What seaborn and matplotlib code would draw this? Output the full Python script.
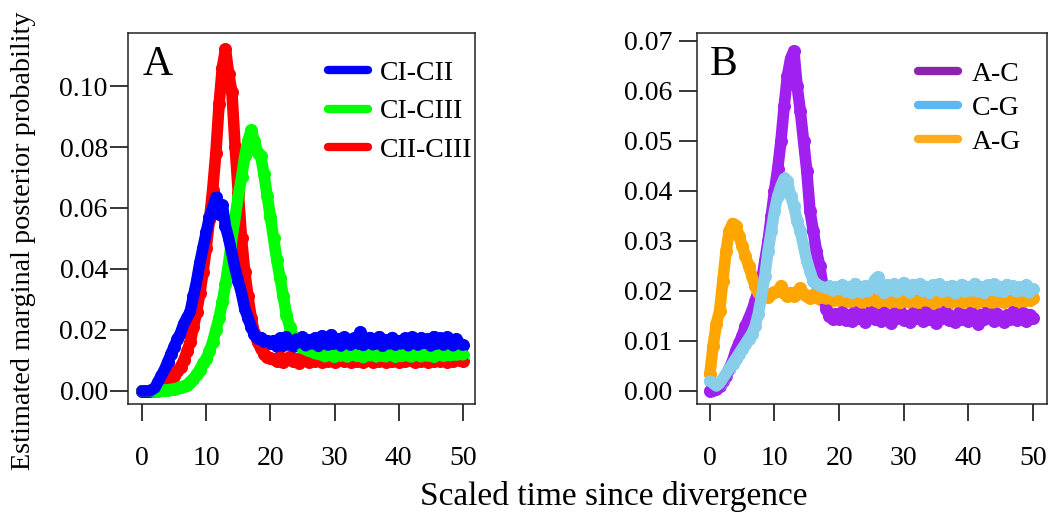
import numpy as np
import pandas as pd
import matplotlib
matplotlib.use("Agg")
import matplotlib.pyplot as plt
from matplotlib.lines import Line2D
import seaborn as sns

# time grid (scaled time since divergence), 0 .. 50 in steps of 0.5
time = np.arange(0, 50.5, 0.5)

# ---- Panel A ----
pairs_a = ["CI-CII", "CI-CIII", "CII-CIII"]
colors_a = {"CI-CII": "#0000FF", "CI-CIII": "#00FF00", "CII-CIII": "#FF0000"}

ci_cii = [
    0.000, 0.000, 0.000, 0.0003, 0.001, 0.003, 0.005, 0.007, 0.0095, 0.012,
    0.0145, 0.017, 0.019, 0.022, 0.024, 0.026, 0.031, 0.036, 0.042, 0.047, 0.052,
    0.057, 0.060, 0.0635, 0.058, 0.061, 0.054, 0.050, 0.045, 0.040, 0.036,
    0.032, 0.027, 0.024, 0.021, 0.0185, 0.017, 0.0175, 0.016, 0.0165, 0.0158,
    0.0165, 0.0148, 0.0172, 0.0152, 0.0178, 0.0156, 0.0146, 0.0170, 0.0158, 0.0176,
    0.0148, 0.0168, 0.0154, 0.0174, 0.0146, 0.0180, 0.0160, 0.0150, 0.0184, 0.0155,
    0.0170, 0.0147, 0.0176, 0.0158, 0.0150, 0.0172, 0.0156, 0.0192, 0.0149, 0.0166,
    0.0175, 0.0151, 0.0160, 0.0178, 0.0146, 0.0168, 0.0154, 0.0175, 0.0150, 0.0164,
    0.0155, 0.0172, 0.0148, 0.0176, 0.0158, 0.0150, 0.0174, 0.0156, 0.0170, 0.0147,
    0.0178, 0.0154, 0.0172, 0.0150, 0.0176, 0.0158, 0.0148, 0.0170, 0.0155, 0.0150,
]
ci_ciii = [
    0.000, 0.000, 0.000, 0.000, 0.000, 0.0001, 0.0002, 0.0003, 0.0004, 0.0005,
    0.0007, 0.0009, 0.0012, 0.0015, 0.002, 0.003, 0.004, 0.0055, 0.007, 0.009, 0.0105,
    0.013, 0.016, 0.020, 0.024, 0.029, 0.035, 0.042, 0.050, 0.057, 0.064,
    0.070, 0.077, 0.082, 0.0855, 0.082, 0.078, 0.077, 0.071, 0.064, 0.057,
    0.050, 0.043, 0.037, 0.031, 0.025, 0.021, 0.018, 0.016, 0.015, 0.014,
    0.0135, 0.013, 0.0128, 0.0122, 0.012,
    0.0118, 0.0112, 0.0121, 0.0115, 0.0110, 0.0119, 0.0114, 0.0122, 0.0111, 0.0117,
    0.0120, 0.0113, 0.0116, 0.0109, 0.0121, 0.0115, 0.0118, 0.0111, 0.0119, 0.0114,
    0.0112, 0.0120, 0.0116, 0.0110, 0.0118, 0.0113, 0.0121, 0.0115, 0.0111, 0.0119,
    0.0117, 0.0112, 0.0120, 0.0114, 0.0118, 0.0110, 0.0116, 0.0121, 0.0113, 0.0119,
    0.0115, 0.0120, 0.0117, 0.0122, 0.0118,
]
cii_ciii = [
    0.000, 0.000, 0.000, 0.0003, 0.0005, 0.001, 0.0012, 0.0018, 0.0025, 0.0035,
    0.005, 0.0065, 0.008, 0.010, 0.013, 0.016, 0.021, 0.026, 0.032, 0.039, 0.047,
    0.056, 0.066, 0.078, 0.094, 0.106, 0.112, 0.104, 0.098, 0.080, 0.065,
    0.050, 0.039, 0.031, 0.024, 0.019, 0.016, 0.014, 0.012, 0.0112, 0.0108,
    0.0105, 0.0098, 0.0110, 0.0095, 0.0103, 0.0112, 0.0097, 0.0104, 0.0093, 0.0108,
    0.0100, 0.0095, 0.0106, 0.0099, 0.0111, 0.0096, 0.0103, 0.0098, 0.0107, 0.0094,
    0.0102, 0.0109, 0.0097, 0.0101, 0.0095, 0.0106, 0.0099, 0.0104, 0.0096, 0.0108,
    0.0100, 0.0094, 0.0105, 0.0098, 0.0103, 0.0095, 0.0107, 0.0099, 0.0102, 0.0096,
    0.0104, 0.0097, 0.0109, 0.0100, 0.0095, 0.0103, 0.0098, 0.0106, 0.0094, 0.0101,
    0.0097, 0.0105, 0.0099, 0.0108, 0.0096, 0.0102, 0.0098, 0.0104, 0.0100, 0.0097,
]

# ---- Panel B ----
pairs_b = ["A-C", "C-G", "A-G"]
colors_b = {"A-C": "#A020F0", "C-G": "#87CEEB", "A-G": "#FFA500"}
legend_colors_b = {"A-C": "#8E24AA", "C-G": "#5DB8F2", "A-G": "#FFAA20"}

a_c = [
    0.000, 0.0002, 0.0005, 0.001, 0.002, 0.003, 0.0045, 0.006, 0.008, 0.0096,
    0.011, 0.013, 0.0145, 0.016, 0.018, 0.020, 0.022, 0.026, 0.030, 0.035, 0.040,
    0.0445, 0.050, 0.057, 0.063, 0.0665, 0.068, 0.061, 0.056, 0.050, 0.044,
    0.036, 0.032, 0.028, 0.025, 0.021, 0.0165, 0.015, 0.0145, 0.0155, 0.0145,
    0.0158, 0.0143, 0.0152, 0.0140, 0.0160, 0.0147, 0.0155, 0.0138, 0.0150, 0.0162,
    0.0145, 0.0153, 0.0140, 0.0157, 0.0148, 0.0136, 0.0155, 0.0146, 0.0161, 0.0142,
    0.0150, 0.0139, 0.0156, 0.0147, 0.0153, 0.0141, 0.0159, 0.0144, 0.0151, 0.0137,
    0.0154, 0.0146, 0.0160, 0.0143, 0.0149, 0.0138, 0.0156, 0.0145, 0.0152, 0.0140,
    0.0158, 0.0147, 0.0135, 0.0153, 0.0144, 0.0160, 0.0149, 0.0141, 0.0155, 0.0146,
    0.0138, 0.0152, 0.0145, 0.0159, 0.0142, 0.0150, 0.0156, 0.0140, 0.0153, 0.0147,
]
c_g = [
    0.002, 0.0015, 0.001, 0.0015, 0.0025, 0.0035, 0.0045, 0.0055, 0.0065, 0.0075,
    0.0085, 0.0095, 0.0105, 0.0115, 0.013, 0.0155, 0.019, 0.023, 0.028, 0.032, 0.036,
    0.039, 0.041, 0.0425, 0.042, 0.039, 0.037, 0.034, 0.032, 0.029, 0.026,
    0.024, 0.022, 0.0215, 0.021, 0.0208, 0.0205, 0.021, 0.0200, 0.0208, 0.0203,
    0.0212, 0.0198, 0.0208, 0.0195, 0.0215, 0.0202, 0.0196, 0.0210, 0.0199, 0.0208,
    0.0222, 0.0228, 0.0203, 0.0195, 0.0212, 0.0200, 0.0214, 0.0197, 0.0207, 0.0217,
    0.0202, 0.0196, 0.0213, 0.0204, 0.0215, 0.0199, 0.0209, 0.0195, 0.0212, 0.0201,
    0.0214, 0.0197, 0.0208, 0.0200, 0.0211, 0.0194, 0.0206, 0.0213, 0.0197, 0.0209,
    0.0200, 0.0215, 0.0198, 0.0208, 0.0195, 0.0212, 0.0201, 0.0214, 0.0199, 0.0209,
    0.0197, 0.0213, 0.0203, 0.0210, 0.0198, 0.0208, 0.0200, 0.0212, 0.0196, 0.0204,
]
a_g = [
    0.0035, 0.009, 0.0135, 0.016, 0.022, 0.028, 0.032, 0.0335, 0.033, 0.031,
    0.029, 0.027, 0.025, 0.023, 0.021, 0.0195, 0.019, 0.0192, 0.0188, 0.0195, 0.0198,
    0.0200, 0.0210, 0.0196, 0.0190, 0.0197, 0.0191, 0.0199, 0.0206, 0.0194, 0.0190,
    0.0187, 0.0193, 0.0188, 0.0185, 0.0190, 0.0184, 0.0188, 0.0182, 0.0187, 0.0183,
    0.0186, 0.0180, 0.0184, 0.0178, 0.0185, 0.0181, 0.0176, 0.0183, 0.0179, 0.0186,
    0.0180, 0.0177, 0.0184, 0.0181, 0.0187, 0.0178, 0.0183, 0.0180, 0.0175, 0.0182,
    0.0185, 0.0179, 0.0183, 0.0177, 0.0181, 0.0186, 0.0180, 0.0184, 0.0176, 0.0182,
    0.0179, 0.0185, 0.0181, 0.0177, 0.0183, 0.0180, 0.0186, 0.0178, 0.0182, 0.0179,
    0.0184, 0.0177, 0.0181, 0.0185, 0.0179, 0.0183, 0.0176, 0.0182, 0.0180, 0.0186,
    0.0178, 0.0183, 0.0181, 0.0185, 0.0179, 0.0184, 0.0180, 0.0186, 0.0182, 0.0187,
]

yticks_a = [0.00, 0.02, 0.04, 0.06, 0.08, 0.10]
yticks_b = [0.00, 0.01, 0.02, 0.03, 0.04, 0.05, 0.06, 0.07]
xticks = [0, 10, 20, 30, 40, 50]

sns.set_theme(style="white")
plt.rcParams["font.family"] = ["Liberation Serif", "DejaVu Serif"]
plt.rcParams["text.color"] = "black"
plt.rcParams["xtick.color"] = "black"
plt.rcParams["ytick.color"] = "black"
plt.rcParams["axes.labelcolor"] = "black"

W, H = 1057, 522
fig = plt.figure(figsize=(W / 100, H / 100), dpi=100)


def px_axes(left, top, right, bottom):
    return fig.add_axes([left / W, 1 - bottom / H, (right - left) / W, (bottom - top) / H])


def draw_series(ax, name, vals, color):
    df = pd.DataFrame({"time": time, "prob": vals})
    # thick line keeps the band continuous, dots give the bumpy edge
    sns.lineplot(data=df, x="time", y="prob", color=color, lw=8.3, sort=False,
                 estimator=None, solid_capstyle="round", solid_joinstyle="round", ax=ax)
    sns.scatterplot(data=df, x="time", y="prob", color=color, s=88, linewidth=0,
                    alpha=1, legend=False, ax=ax)


ax_a = px_axes(128, 33, 475, 404)
ax_b = px_axes(697, 33, 1047, 404)

# drawing order: later series sit on top
for name, vals in [("CII-CIII", cii_ciii), ("CI-CIII", ci_ciii), ("CI-CII", ci_cii)]:
    draw_series(ax_a, name, vals, colors_a[name])
for name, vals in [("A-C", a_c), ("A-G", a_g), ("C-G", c_g)]:
    draw_series(ax_b, name, vals, colors_b[name])

ax_a.set_xlim(-2.2, 51.9)
ax_a.set_ylim(-0.0043, 0.1174)
ax_b.set_xlim(-2.0, 52.2)
ax_b.set_ylim(-0.0026, 0.0716)

for ax, yt, ypad in [(ax_a, yticks_a, 1.5), (ax_b, yticks_b, 5)]:
    ax.set_xticks(xticks)
    ax.set_xticklabels([str(x) for x in xticks])
    ax.set_yticks(yt)
    ax.set_yticklabels([f"{y:.2f}" for y in yt])
    ax.set_xlabel("")
    ax.set_ylabel("")
    ax.tick_params(axis="x", direction="out", length=12.5, width=1.1, pad=18,
                   labelsize=20, colors="black", bottom=True)
    ax.tick_params(axis="y", direction="out", length=13, width=1.1, pad=ypad,
                   labelsize=20, colors="black", left=True)
    for sp in ax.spines.values():
        sp.set_visible(True)
        sp.set_color("#222222")
        sp.set_linewidth(1.1)
    ax.grid(False)

ax_a.text(0.043, 0.887, "A", transform=ax_a.transAxes, fontsize=30, va="baseline", color="black")
ax_b.text(0.037, 0.887, "B", transform=ax_b.transAxes, fontsize=30, va="baseline", color="black")

handles_a = [Line2D([], [], color=colors_a[p], lw=6) for p in pairs_a]
ax_a.legend(handles_a, pairs_a, loc="upper left", bbox_to_anchor=(0.576, 0.926),
            frameon=False, fontsize=20, handlelength=1.45, handletextpad=0.43,
            labelspacing=0.47, borderpad=0, borderaxespad=0)
handles_b = [Line2D([], [], color=legend_colors_b[p], lw=6) for p in pairs_b]
ax_b.legend(handles_b, pairs_b, loc="upper left", bbox_to_anchor=(0.631, 0.923),
            frameon=False, fontsize=20, handlelength=1.45, handletextpad=0.5,
            labelspacing=0.30, borderpad=0, borderaxespad=0)

fig.text(24 / W, 1 - 241 / H, "Estimated marginal posterior probability",
         rotation=90, ha="center", va="center", fontsize=20.3)
fig.text(614 / W, 1 - 497 / H, "Scaled time since divergence",
         ha="center", va="center", fontsize=24)

fig.savefig("out.png", dpi=100)
